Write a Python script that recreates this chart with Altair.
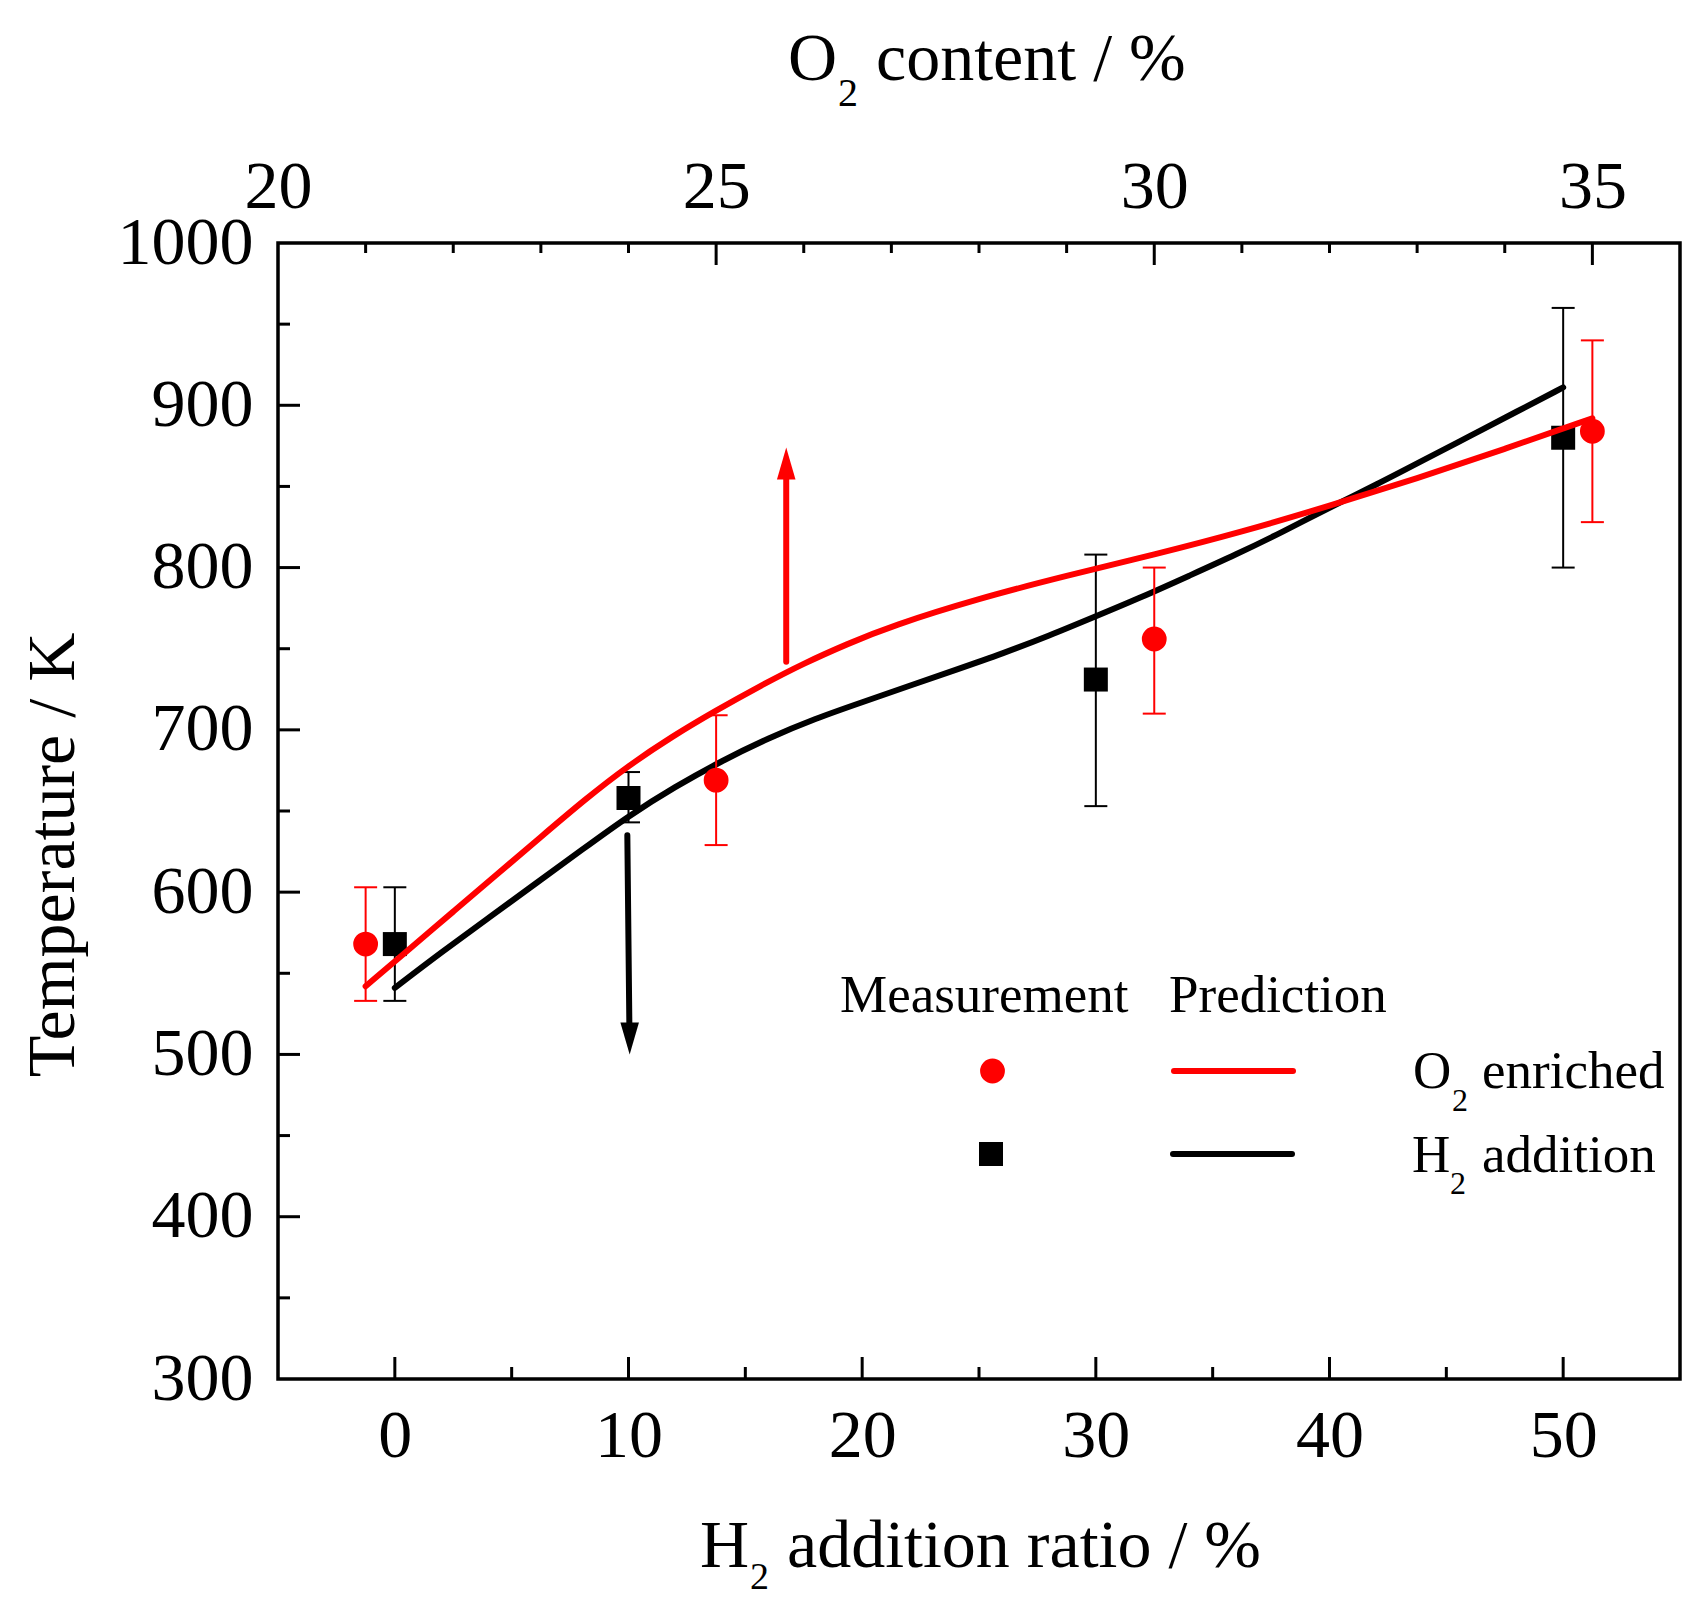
import altair as alt
import pandas as pd

# ---------------- data ----------------
# measurements, O2-enriched series (top axis: O2 content / %)
o2_meas_x = [21.0, 25.0, 30.0, 35.0]
o2_meas_T = [568, 669, 756, 884]
o2_err_lo = [533, 629, 710, 828]
o2_err_hi = [603, 709, 800, 940]

# measurements, H2-addition series (bottom axis: H2 addition ratio / %)
h2_meas_x = [0, 10, 30, 50]
h2_meas_T = [568, 658, 731, 880]
h2_err_lo = [533, 643, 653, 800]
h2_err_hi = [603, 674, 808, 960]

# predictions
o2_pred_x = [21.0, 21.5, 22.0, 22.5, 23.0, 23.5, 24.0, 24.5, 25.0, 25.5, 26.0,
             26.5, 27.0, 28.0, 29.0, 30.0, 31.0, 32.0, 33.0, 34.0, 35.0]
o2_pred_T = [542, 565, 588, 611, 634, 657, 678, 696, 712, 727, 741,
             753, 764, 781, 795, 808, 822, 838, 855, 873, 892]
h2_pred_x = [0, 2, 4, 6, 8, 10, 12, 14, 16, 18, 20, 22, 24, 26, 28, 30,
             32, 34, 36, 38, 40, 42, 44, 46, 48, 50]
h2_pred_T = [541, 563, 584, 605, 626, 647, 665, 681, 695, 707, 717, 727, 737,
             747, 758, 770, 782, 795, 808, 822, 837, 851, 866, 881, 896, 911]

# arrows (shaft start/end and head tip)
up_shaft_x = [25.8, 25.8]
up_shaft_T = [742, 860]
up_tip_x = [25.8]
up_tip_T = [874]
down_shaft_x = [9.95, 10.04]
down_shaft_T = [635, 514]
down_tip_x = [10.05]
down_tip_T = [500]

# ticks
h2_labels = [0, 10, 20, 30, 40, 50]
h2_minor = [5, 15, 25, 35, 45]
o2_labels = [20, 25, 30, 35]
o2_major = [25, 30, 35]
o2_minor = [21, 22, 23, 24, 26, 27, 28, 29, 31, 32, 33, 34]
T_labels = [300, 400, 500, 600, 700, 800, 900, 1000]
T_major = [400, 500, 600, 700, 800, 900]
T_minor = [350, 450, 550, 650, 750, 850, 950]

# ---------------- layout / style ----------------
W, H = 1402, 1136
FONT = "Liberation Serif"
RED = "#ff0000"
BLK = "#000000"
MAJ, MIN = 22, 12
LW = 6

xH_scale = alt.Scale(domain=[-5, 55], nice=False, zero=False)
xO_scale = alt.Scale(domain=[20, 36], nice=False, zero=False)
y_scale = alt.Scale(domain=[300, 1000], nice=False, zero=False)

common_axis = dict(domain=False, ticks=False, tickSize=0, grid=False, title=None,
                   labelFont=FONT, labelFontSize=68, labelColor=BLK,
                   labelFlush=False, labelOverlap=False)
xH_axis = alt.Axis(orient="bottom", values=h2_labels, labelPadding=23, format="d", **common_axis)
xO_axis = alt.Axis(orient="top", values=o2_labels, labelPadding=22, format="d", **common_axis)
y_axis = alt.Axis(orient="left", values=T_labels, labelPadding=25, format="d", **common_axis)


def XH(f):
    return alt.X(f, type="quantitative", scale=xH_scale, axis=xH_axis)


def XO(f):
    return alt.X(f, type="quantitative", scale=xO_scale, axis=xO_axis)


def Y(f):
    return alt.Y(f, type="quantitative", scale=y_scale, axis=y_axis)


ARROW_UP = "M0,0 L-0.58,2 L0.58,2 Z"
ARROW_DOWN = "M0,0 L-0.58,-2 L0.58,-2 Z"

# ---------------- data frames ----------------
df_h2_meas = pd.DataFrame({"x": h2_meas_x, "T": h2_meas_T, "lo": h2_err_lo, "hi": h2_err_hi})
df_o2_meas = pd.DataFrame({"x": o2_meas_x, "T": o2_meas_T, "lo": o2_err_lo, "hi": o2_err_hi})
df_h2_pred = pd.DataFrame({"x": h2_pred_x, "T": h2_pred_T})
df_o2_pred = pd.DataFrame({"x": o2_pred_x, "T": o2_pred_T})
df_up_shaft = pd.DataFrame({"x": [up_shaft_x[0]], "x2": [up_shaft_x[1]],
                            "T": [up_shaft_T[0]], "T2": [up_shaft_T[1]]})
df_up_tip = pd.DataFrame({"x": up_tip_x, "T": up_tip_T})
df_down_shaft = pd.DataFrame({"x": [down_shaft_x[0]], "x2": [down_shaft_x[1]],
                              "T": [down_shaft_T[0]], "T2": [down_shaft_T[1]]})
df_down_tip = pd.DataFrame({"x": down_tip_x, "T": down_tip_T})
one = pd.DataFrame({"k": [0]})

# ---------------- H2 group (bottom axis) ----------------
h_err = alt.Chart(df_h2_meas).mark_rule(color=BLK, strokeWidth=2).encode(
    x=XH("x"), y=Y("lo"), y2="hi")
h_cap_lo = alt.Chart(df_h2_meas).mark_tick(color=BLK, orient="horizontal", size=23,
                                          thickness=2, opacity=1).encode(x=XH("x"), y=Y("lo"))
h_cap_hi = alt.Chart(df_h2_meas).mark_tick(color=BLK, orient="horizontal", size=23,
                                          thickness=2, opacity=1).encode(x=XH("x"), y=Y("hi"))
h_pts = alt.Chart(df_h2_meas).mark_point(shape="square", size=576, filled=True,
                                         color=BLK, opacity=1, strokeWidth=0).encode(
    x=XH("x"), y=Y("T"))
h_line = alt.Chart(df_h2_pred).mark_line(color=BLK, strokeWidth=LW, interpolate="basis",
                                         strokeCap="round").encode(x=XH("x"), y=Y("T"))
h_shaft = alt.Chart(df_down_shaft).mark_rule(color=BLK, strokeWidth=6, strokeCap="round").encode(
    x=XH("x"), x2="x2", y=Y("T"), y2="T2")
h_tip = alt.Chart(df_down_tip).mark_point(shape=ARROW_DOWN, size=1024, filled=True,
                                          color=BLK, opacity=1, strokeWidth=0).encode(
    x=XH("x"), y=Y("T"))

bot_major = alt.Chart(pd.DataFrame({"v": h2_labels})).mark_rule(color=BLK, strokeWidth=3).encode(
    x=XH("v"), y=alt.value(H), y2=alt.value(H - MAJ))
bot_minor = alt.Chart(pd.DataFrame({"v": h2_minor})).mark_rule(color=BLK, strokeWidth=3).encode(
    x=XH("v"), y=alt.value(H), y2=alt.value(H - MIN))
left_major = alt.Chart(pd.DataFrame({"v": T_major})).mark_rule(color=BLK, strokeWidth=3).encode(
    y=Y("v"), x=alt.value(0), x2=alt.value(MAJ))
left_minor = alt.Chart(pd.DataFrame({"v": T_minor})).mark_rule(color=BLK, strokeWidth=3).encode(
    y=Y("v"), x=alt.value(0), x2=alt.value(MIN))


def txt(s, x, y, size, align="left", angle=0):
    return alt.Chart(one).mark_text(text=s, font=FONT, fontSize=size, align=align,
                                    baseline="alphabetic", color=BLK, angle=angle).encode(
        x=alt.value(x), y=alt.value(y))


# axis titles (with lowered subscripts)
titles = [
    txt("O", 510, -163, 68), txt("2", 560, -137, 40), txt("content / %", 598, -163, 68),
    txt("H", 422, 1324, 68), txt("2", 472, 1346, 38), txt("addition ratio / %", 509, 1324, 68),
    txt("Temperature / K", -204, 612, 68, align="center", angle=270),
]

# legend
leg_items = [
    txt("Measurement", 562, 769, 53),
    txt("Prediction", 891, 769, 53),
    alt.Chart(one).mark_point(shape="circle", size=616, filled=True, color=RED, opacity=1,
                              strokeWidth=0).encode(x=alt.value(714.5), y=alt.value(828)),
    alt.Chart(one).mark_rule(color=RED, strokeWidth=LW, strokeCap="round").encode(
        x=alt.value(896), x2=alt.value(1015), y=alt.value(828)),
    txt("O", 1135, 845, 53), txt("2", 1174, 868, 32), txt("enriched", 1204, 845, 53),
    alt.Chart(one).mark_point(shape="square", size=576, filled=True, color=BLK, opacity=1,
                              strokeWidth=0).encode(x=alt.value(713), y=alt.value(911)),
    alt.Chart(one).mark_rule(color=BLK, strokeWidth=LW, strokeCap="round").encode(
        x=alt.value(895), x2=alt.value(1014), y=alt.value(911)),
    txt("H", 1134, 929, 53), txt("2", 1172, 951, 32), txt("addition", 1204, 929, 53),
]

group_h = alt.layer(h_err, h_cap_lo, h_cap_hi, h_pts, h_line, h_shaft, h_tip,
                    bot_major, bot_minor, left_major, left_minor, *titles, *leg_items)

# ---------------- O2 group (top axis) ----------------
o_err = alt.Chart(df_o2_meas).mark_rule(color=RED, strokeWidth=2).encode(
    x=XO("x"), y=Y("lo"), y2="hi")
o_cap_lo = alt.Chart(df_o2_meas).mark_tick(color=RED, orient="horizontal", size=23,
                                          thickness=2, opacity=1).encode(x=XO("x"), y=Y("lo"))
o_cap_hi = alt.Chart(df_o2_meas).mark_tick(color=RED, orient="horizontal", size=23,
                                          thickness=2, opacity=1).encode(x=XO("x"), y=Y("hi"))
o_pts = alt.Chart(df_o2_meas).mark_point(shape="circle", size=616, filled=True,
                                         color=RED, opacity=1, strokeWidth=0).encode(
    x=XO("x"), y=Y("T"))
o_line = alt.Chart(df_o2_pred).mark_line(color=RED, strokeWidth=LW, interpolate="basis",
                                         strokeCap="round").encode(x=XO("x"), y=Y("T"))
o_shaft = alt.Chart(df_up_shaft).mark_rule(color=RED, strokeWidth=6, strokeCap="round").encode(
    x=XO("x"), x2="x2", y=Y("T"), y2="T2")
o_tip = alt.Chart(df_up_tip).mark_point(shape=ARROW_UP, size=1024, filled=True,
                                        color=RED, opacity=1, strokeWidth=0).encode(
    x=XO("x"), y=Y("T"))
top_major = alt.Chart(pd.DataFrame({"v": o2_major})).mark_rule(color=BLK, strokeWidth=3).encode(
    x=XO("v"), y=alt.value(0), y2=alt.value(MAJ))
top_minor = alt.Chart(pd.DataFrame({"v": o2_minor})).mark_rule(color=BLK, strokeWidth=3).encode(
    x=XO("v"), y=alt.value(0), y2=alt.value(MIN - 2))

group_o = alt.layer(o_err, o_cap_lo, o_cap_hi, o_pts, o_line, o_shaft, o_tip,
                    top_major, top_minor)

chart = alt.layer(group_h, group_o).resolve_scale(x="independent").properties(
    width=W, height=H,
    padding={"left": 270, "top": 235, "right": 18, "bottom": 221},
    autosize=alt.AutoSizeParams(type="none"),
    background="white",
).configure_view(stroke=BLK, strokeWidth=3.5)

chart.save("out.html", embed_options={"renderer": "svg", "actions": False})
